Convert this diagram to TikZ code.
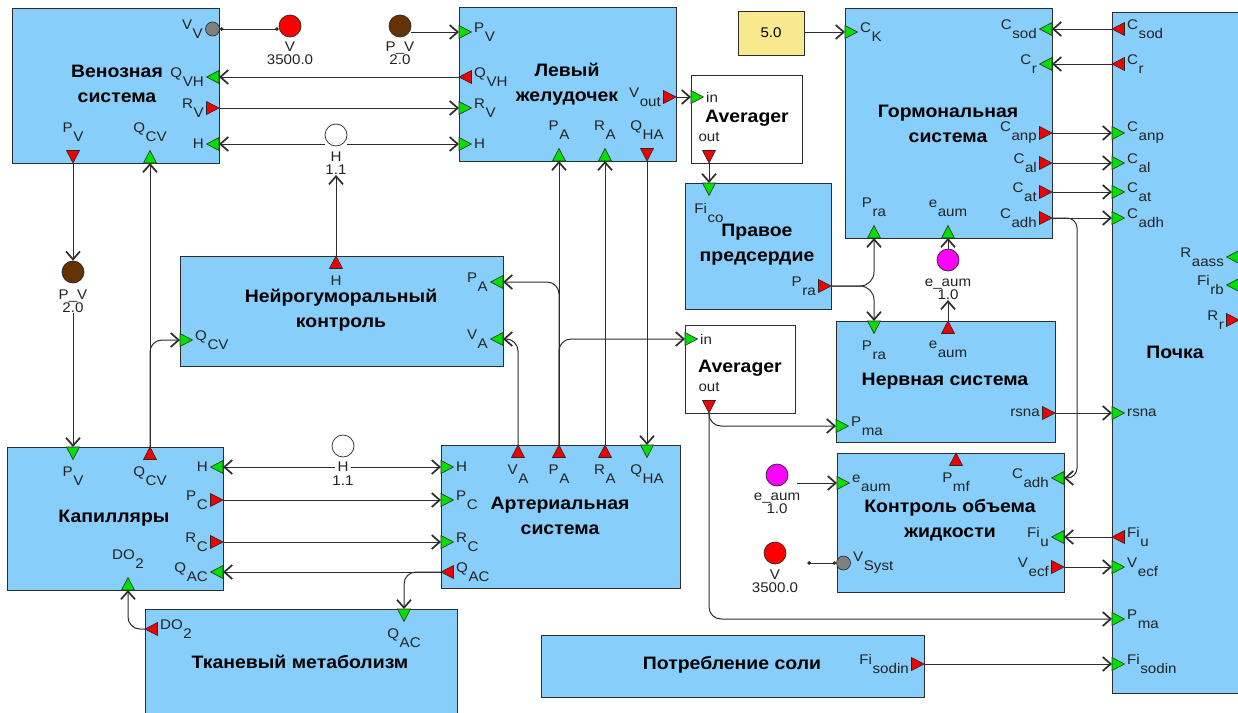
\documentclass[tikz,border=0pt]{standalone}
\usepackage{fontspec}
\setmainfont[FakeStretch=1.08]{Liberation Sans}
\usetikzlibrary{arrows.meta,calc,fit}
\definecolor{boxc}{RGB}{135,206,250}
\definecolor{bordc}{RGB}{45,45,45}
\definecolor{linec}{RGB}{45,45,45}
\definecolor{gport}{RGB}{0,225,0}
\definecolor{rport}{RGB}{240,0,0}
\definecolor{tric}{RGB}{40,40,40}
\definecolor{labc}{RGB}{35,35,35}
\definecolor{yelc}{RGB}{248,232,142}
\definecolor{brownc}{RGB}{100,50,5}
\definecolor{magc}{RGB}{255,0,255}
\definecolor{redc}{RGB}{255,0,0}
\definecolor{grayc}{RGB}{128,128,128}
\newcommand\ps[2]{#1\kern0.6pt\raisebox{-9pt}{#2}}
\newcommand\lblf{\fontsize{14}{13}\selectfont}
\newcommand\ttlf{\bfseries\fontsize{18}{25}\selectfont}
\newcommand\pR[4]{\coordinate (#1) at (#2); \pic at (#1) {#3}; \node[lab, anchor=east] (l#1) at ($(#1)+(-14,0)$) {#4};}
\newcommand\pL[4]{\coordinate (#1) at (#2); \pic[rotate=180] at (#1) {#3}; \node[lab, anchor=west] (l#1) at ($(#1)+(14,0)$) {#4};}
\newcommand\pT[4]{\coordinate (#1) at (#2); \pic[rotate=90] at (#1) {#3}; \node[lab, anchor=north] (l#1) at ($(#1)+(0,19)$) {#4};}
\newcommand\pB[4]{\coordinate (#1) at (#2); \pic[rotate=270] at (#1) {#3}; \node[lab, anchor=south] (l#1) at ($(#1)+(0,-20)$) {#4};}
\begin{document}
\begin{tikzpicture}[x=1pt,y=-1pt,
  blk/.style={draw=bordc, fill=boxc, line width=1pt, inner sep=0pt, outer sep=0pt},
  wblk/.style={draw=bordc, fill=white, line width=1pt, inner sep=0pt, outer sep=0pt},
  ttl/.style={font=\ttlf, align=center, text=black},
  lab/.style={font=\lblf, text=labc, inner sep=1pt},
  clab/.style={font=\lblf, text=labc, align=center, inner sep=0.5pt},
  circ/.style={circle, draw=tric, line width=0.7pt, minimum size=22pt, inner sep=0pt},
  gp/.style={circle, draw=tric, line width=0.6pt, fill=grayc, minimum size=14pt, inner sep=0pt},
  arr/.style={draw=linec, line width=1pt, -{Straight Barb[length=8pt,width=14pt,line width=1.7pt]}},
  dotl/.style={draw=linec, line width=1pt, {Circle[length=3.5pt]}-{Circle[length=3.5pt]}},
  tin/.pic={\path[draw=tric, line width=0.6pt, fill=gport] (0,-6.5) -- (-12.5,0) -- (0,6.5) -- cycle;},
  tout/.pic={\path[draw=tric, line width=0.6pt, fill=rport] (-12.5,-6.5) -- (0,0) -- (-12.5,6.5) -- cycle;},
  rc/.style={rounded corners=12pt}
]
\useasboundingbox (0,0) rectangle (1238,712);
\clip (0,0) rectangle (1238,712);
\fill[white] (0,0) rectangle (1238,712);

% ---------- blocks ----------
\node[blk, fit={(12,8) (219,163)}] (ven) {};
\node[blk, fit={(459,7) (676,161)}] (lv) {};
\node[wblk, fit={(691,75) (802,163)}] (av1) {};
\node[draw=bordc, fill=yelc, line width=1pt, minimum width=66pt, minimum height=44pt, font=\lblf] (yel) at (771,33) {5.0};
\node[blk, fit={(845,8) (1052,238)}] (horm) {};
\node[blk, fit={(1112,12) (1239,693)}] (kid) {};
\node[blk, fit={(685,183) (831,309)}] (ra) {};
\node[blk, fit={(180,256) (503,366)}] (neu) {};
\node[wblk, fit={(685,325) (795,413)}] (av2) {};
\node[blk, fit={(836,321) (1055,442)}] (nerv) {};
\node[blk, fit={(7,447) (223,590)}] (cap) {};
\node[blk, fit={(441,445) (680,588)}] (art) {};
\node[blk, fit={(145,609) (457,725)}] (tis) {};
\node[blk, fit={(837,453) (1064,592)}] (fl) {};
\node[blk, fit={(541,635) (924,697)}] (salt) {};

% ---------- titles ----------
\node[ttl] (tven) at (117,84) {Венозная\\система};
\node[ttl] (tlv) at (567,84) {Левый\\желудочек};
\node[ttl] (tav1) at (747,118) {Averager};
\node[ttl] (thorm) at (948,124) {Гормональная\\система};
\node[ttl] (tra) at (757,245) {Правое\\предсердие};
\node[ttl] (tneu) at (341,310) {Нейрогуморальный\\контроль};
\node[ttl] (tav2) at (740,368) {Averager};
\node[ttl] (tnerv) at (945,381) {Нервная система};
\node[ttl] (tkid) at (1175,352) {Почка};
\node[ttl] (tcap) at (114,518) {Капилляры};
\node[ttl] (tart) at (560,516) {Артериальная\\система};
\node[ttl] (ttis) at (300,662) {Тканевый метаболизм};
\node[ttl] (tfl) at (950,520) {Контроль объема\\жидкости};
\node[ttl] (tsalt) at (732,665) {Потребление соли};

% ---------- ports ----------
\node[gp] (ven-VV) at (212.5,29) {};
\node[lab, anchor=east] (lven-VV) at (204,29) {\ps{V}{V}};
\pR{ven-QVH}{219,77}{tin}{\ps{Q}{VH}}
\pR{ven-RV}{219,108}{tout}{\ps{R}{V}}
\pR{ven-H}{219,144}{tin}{H}
\pB{ven-PV}{73,163}{tout}{\ps{P}{V}}
\pB{ven-QCV}{150,163}{tin}{\ps{Q}{CV}}

\pL{lv-PV}{459,32}{tin}{\ps{P}{V}}
\pL{lv-QVH}{459,77}{tout}{\ps{Q}{VH}}
\pL{lv-RV}{459,108}{tin}{\ps{R}{V}}
\pL{lv-H}{459,144}{tin}{H}
\pR{lv-Vout}{676,97}{tout}{\ps{V}{out}}
\pB{lv-PA}{559,161}{tin}{\ps{P}{A}}
\pB{lv-RA}{605,161}{tin}{\ps{R}{A}}
\pB{lv-QHA}{647,161}{tout}{\ps{Q}{HA}}

\pL{av1-in}{691,97}{tin}{in}
\pB{av1-out}{709,163}{tout}{out}

\pL{horm-CK}{845,32}{tin}{\ps{C}{K}}
\pR{horm-Csod}{1052,29}{tin}{\ps{C}{sod}}
\pR{horm-Cr}{1052,64}{tin}{\ps{C}{r}}
\pR{horm-Canp}{1052,133}{tout}{\ps{C}{anp}}
\pR{horm-Cal}{1052,163}{tout}{\ps{C}{al}}
\pR{horm-Cat}{1052,192}{tout}{\ps{C}{at}}
\pR{horm-Cadh}{1052,218}{tout}{\ps{C}{adh}}
\pB{horm-Pra}{874,238}{tin}{\ps{P}{ra}}
\pB{horm-eaum}{948,238}{tin}{\ps{e}{aum}}

\pL{kid-Csod}{1112,29}{tout}{\ps{C}{sod}}
\pL{kid-Cr}{1112,64}{tout}{\ps{C}{r}}
\pL{kid-Canp}{1112,133}{tin}{\ps{C}{anp}}
\pL{kid-Cal}{1112,163}{tin}{\ps{C}{al}}
\pL{kid-Cat}{1112,192}{tin}{\ps{C}{at}}
\pL{kid-Cadh}{1112,218}{tin}{\ps{C}{adh}}
\pR{kid-Raass}{1239,257}{tin}{\ps{R}{aass}}
\pR{kid-Firb}{1239,285}{tin}{\ps{Fi}{rb}}
\pR{kid-Rr}{1239,320}{tout}{\ps{R}{r}}
\pL{kid-rsna}{1112,413}{tin}{rsna}
\pL{kid-Fiu}{1112,537}{tout}{\ps{Fi}{u}}
\pL{kid-Vecf}{1112,567}{tin}{\ps{V}{ecf}}
\pL{kid-Pma}{1112,619}{tin}{\ps{P}{ma}}
\pL{kid-Fisodin}{1112,664}{tin}{\ps{Fi}{sodin}}

\pT{ra-Fico}{709,183}{tin}{\ps{Fi}{co}}
\pR{ra-Pra}{831,286}{tout}{\ps{P}{ra}}

\pT{neu-H}{336,256}{tout}{H}
\pR{neu-PA}{503,282}{tin}{\ps{P}{A}}
\pR{neu-VA}{503,339}{tin}{\ps{V}{A}}
\pL{neu-QCV}{180,340}{tin}{\ps{Q}{CV}}

\pL{av2-in}{685,339}{tin}{in}
\pB{av2-out}{709,413}{tout}{out}

\pT{nerv-Pra}{874,321}{tin}{\ps{P}{ra}}
\pT{nerv-eaum}{948,321}{tout}{\ps{e}{aum}}
\pL{nerv-Pma}{836,426}{tin}{\ps{P}{ma}}
\pR{nerv-rsna}{1055,413}{tout}{rsna}

\pT{cap-PV}{73,447}{tin}{\ps{P}{V}}
\pT{cap-QCV}{150,447}{tout}{\ps{Q}{CV}}
\pR{cap-H}{223,467}{tin}{H}
\pR{cap-PC}{223,500}{tout}{\ps{P}{C}}
\pR{cap-RC}{223,542}{tout}{\ps{R}{C}}
\pR{cap-QAC}{223,572}{tin}{\ps{Q}{AC}}
\pB{cap-DO2}{128,590}{tin}{\ps{DO}{2}}

\pL{art-H}{441,467}{tin}{H}
\pL{art-PC}{441,500}{tin}{\ps{P}{C}}
\pL{art-RC}{441,542}{tin}{\ps{R}{C}}
\pL{art-QAC}{441,572}{tout}{\ps{Q}{AC}}
\pT{art-VA}{518,445}{tout}{\ps{V}{A}}
\pT{art-PA}{559,445}{tout}{\ps{P}{A}}
\pT{art-RA}{605,445}{tout}{\ps{R}{A}}
\pT{art-QHA}{647,445}{tin}{\ps{Q}{HA}}

\pL{tis-DO2}{145,629}{tout}{\ps{DO}{2}}
\pT{tis-QAC}{404,609}{tin}{\ps{Q}{AC}}

\pL{fl-eaum}{837,483}{tin}{\ps{e}{aum}}
\node[gp] (fl-VSyst) at (843.5,563) {};
\node[lab, anchor=west] (lfl-VSyst) at (852,563) {\ps{V}{Syst}};
\pT{fl-Pmf}{956,453}{tout}{\ps{P}{mf}}
\pR{fl-Cadh}{1064,478}{tin}{\ps{C}{adh}}
\pR{fl-Fiu}{1064,537}{tin}{\ps{Fi}{u}}
\pR{fl-Vecf}{1064,567}{tout}{\ps{V}{ecf}}

\pR{salt-Fisodin}{924,664}{tout}{\ps{Fi}{sodin}}

% ---------- constants / gauges ----------
\node[circ, fill=redc] (cV1) at (290,26) {};
\node[clab, anchor=north] (lcV1) at (290,41) {V\\3500.0};
\node[circ, fill=brownc] (cPV1) at (400,26) {};
\node[clab, anchor=north] (lcPV1) at (400,41) {P\_V\\2.0};
\node[circ, fill=white] (cH1) at (336,135) {};
\node[clab, anchor=north] (lcH1) at (336,151) {H\\1.1};
\node[circ, fill=brownc] (cPV2) at (73,272) {};
\node[clab, anchor=north] (lcPV2) at (73,289) {P\_V\\2.0};
\node[circ, fill=magc] (ce2) at (948,260) {};
\node[clab, anchor=north] (lce2) at (948,278) {e\_aum\\1.0};
\node[circ, fill=white] (cH2) at (343,446) {};
\node[lab, inner sep=2pt] (lcH2) at (343,467) {H};
\node[clab, anchor=north] (l11) at (343,475) {1.1};
\node[circ, fill=magc] (ce3) at (777,475) {};
\node[clab, anchor=north] (lce3) at (777,492) {e\_aum\\1.0};
\node[circ, fill=redc] (cV2) at (775,553) {};
\node[clab, anchor=north] (lcV2) at (775,569) {V\\3500.0};

% ---------- connectors ----------
\draw[dotl] (ven-VV.east) -- (ven-VV.east -| cV1.west);
\draw[arr] (cPV1.east |- lv-PV) -- (lv-PV);
\draw[arr] (lv-QVH) -- (ven-QVH);
\draw[arr] (ven-RV) -- (lv-RV);
\draw[arr] (cH1.west |- ven-H) -- (ven-H);
\draw[arr] (cH1.east |- lv-H) -- (lv-H);
\draw[arr] (neu-H) -- (lcH1.south);
\draw[arr] (lv-Vout) -- (av1-in);
\draw[arr] (av1-out) -- (ra-Fico);
\draw[arr] (yel.east |- horm-CK) -- (horm-CK);
\draw[arr] (kid-Csod) -- (horm-Csod);
\draw[arr] (kid-Cr) -- (horm-Cr);
\draw[arr] (horm-Canp) -- (kid-Canp);
\draw[arr] (horm-Cal) -- (kid-Cal);
\draw[arr] (horm-Cat) -- (kid-Cat);
\draw[arr] (horm-Cadh) -- (kid-Cadh);
\draw[arr, rounded corners=10pt] (horm-Cadh) -| ($(fl-Cadh)+(13,0)$) -- (fl-Cadh);
\draw[arr, rounded corners=14pt] (ra-Pra) -| (horm-Pra);
\draw[arr, rounded corners=14pt] (ra-Pra) -| (nerv-Pra);
\draw[arr] (nerv-eaum) -- (lce2.south);
\draw[arr] (ce2) -- (horm-eaum);
\draw[arr] (art-PA) -- (lv-PA);
\draw[arr, rc] (art-PA) |- (neu-PA);
\draw[arr, rc] (art-PA) |- (av2-in);
\draw[arr, rc] (art-VA) |- (neu-VA);
\draw[arr] (art-RA) -- (lv-RA);
\draw[arr] (lv-QHA) -- (art-QHA);
\draw[arr] (ven-PV) -- (cPV2);
\draw[arr] (lcPV2.south) -- (cap-PV);
\draw[arr] (cap-QCV) -- (ven-QCV);
\draw[arr, rc] (cap-QCV) |- (neu-QCV);
\draw[arr] (lcH2.west) -- (cap-H);
\draw[arr] (lcH2.east) -- (art-H);
\draw[arr] (cap-PC) -- (art-PC);
\draw[arr] (cap-RC) -- (art-RC);
\draw[arr] (art-QAC) -- (cap-QAC);
\draw[arr, rc] (art-QAC) -| (tis-QAC);
\draw[arr, rc] (tis-DO2) -| (cap-DO2);
\draw[arr, rc] (av2-out) |- (nerv-Pma);
\draw[arr, rc] (av2-out) |- (kid-Pma);
\draw[arr] (nerv-rsna) -- (kid-rsna);
\draw[arr, shorten <=9pt] (ce3.east |- fl-eaum) -- (fl-eaum);
\draw[dotl, shorten <=21pt] (cV2.east |- fl-VSyst) -- (fl-VSyst.west);
\draw[arr] (kid-Fiu) -- (fl-Fiu);
\draw[arr] (fl-Vecf) -- (kid-Vecf);
\draw[arr] (salt-Fisodin) -- (kid-Fisodin);
\end{tikzpicture}
\end{document}
